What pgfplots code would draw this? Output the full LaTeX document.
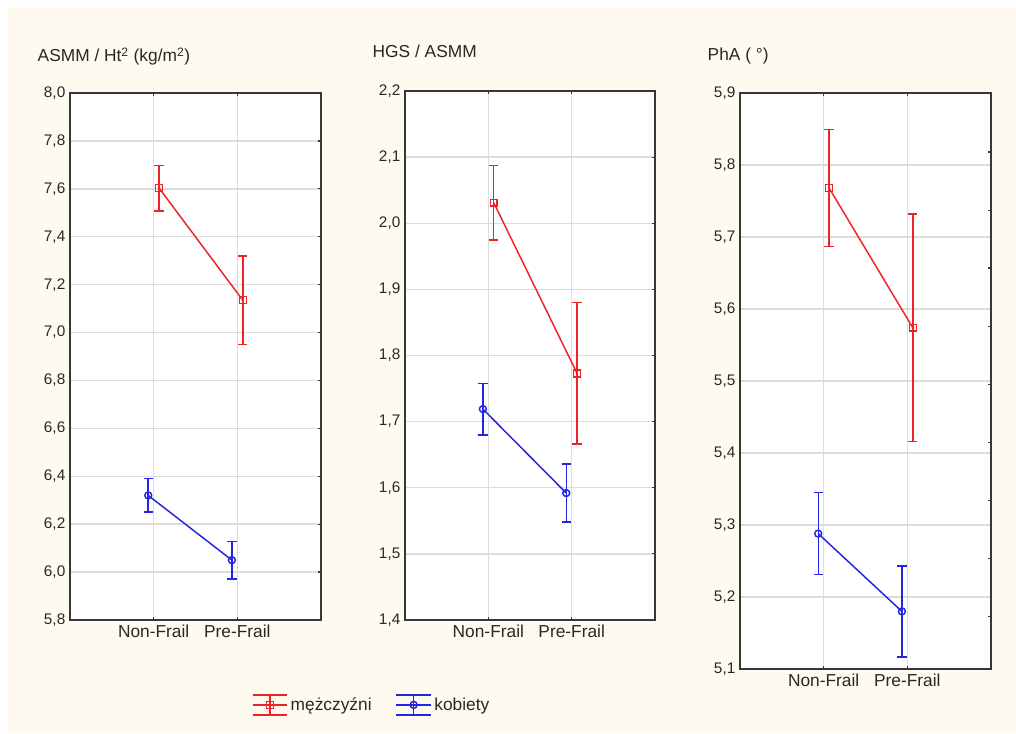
\documentclass[border=0pt]{standalone}
\usepackage{pgfplots}
\usepackage{pgfplotstable}
\pgfplotsset{compat=1.18}
\usepackage{fontspec}
\setmainfont{Liberation Sans}

\definecolor{bgc}{RGB}{254,250,240}
\definecolor{mred}{RGB}{236,36,40}
\definecolor{mblue}{RGB}{36,36,226}
\definecolor{gridc}{RGB}{220,220,220}
\definecolor{axc}{RGB}{55,55,55}
\definecolor{txt}{RGB}{40,40,40}

% x = category (1 Non-Frail, 2 Pre-Frail), shifted a little per series
\pgfplotstableread{
x y e
1.065 7.603 0.095
2.065 7.135 0.185
}\menA
\pgfplotstableread{
x y e
0.935 6.320 0.070
1.935 6.050 0.078
}\womA
\pgfplotstableread{
x y e
1.065 2.031 0.056
2.065 1.773 0.107
}\menB
\pgfplotstableread{
x y e
0.935 1.719 0.039
1.935 1.592 0.044
}\womB
\pgfplotstableread{
x y e
1.065 5.768 0.081
2.065 5.574 0.158
}\menC
\pgfplotstableread{
x y e
0.935 5.288 0.057
1.935 5.180 0.063
}\womC

\pgfplotsset{
  panel/.style={
    scale only axis, width=188.25pt,
    xmin=0, xmax=3, xtick={1,2}, xticklabels={Non-Frail,Pre-Frail},
    xmajorgrids, ymajorgrids,
    grid style={gridc, line width=1.1pt},
    axis line style={axc, line width=1.1pt},
    tick style={axc, line width=0.9pt},
    major tick length=2.5pt, tick align=inside,
    xtick pos=both, xticklabel pos=bottom,
    ytick pos=right, yticklabel pos=left,
    axis background/.style={fill=white},
    /pgf/number format/assume math mode=true,
    yticklabel style={font=\fontsize{11.5}{13}\selectfont, text=txt,
      /pgf/number format/use comma, /pgf/number format/fixed,
      /pgf/number format/fixed zerofill, /pgf/number format/precision=1},
    xticklabel style={font=\fontsize{13}{15}\selectfont, text=txt},
    clip=false,
  },
  men/.style={mred, line width=1.1pt, mark=square, mark size=2.6pt, mark options={solid},
    error bars/.cd, y dir=both, y explicit,
    error bar style={mred, line width=1.1pt},
    error mark options={rotate=90, mred, mark size=3.5pt, line width=1.1pt}},
  wom/.style={mblue, line width=1.1pt, mark=o, mark size=2.6pt, mark options={solid},
    error bars/.cd, y dir=both, y explicit,
    error bar style={mblue, line width=1.1pt},
    error mark options={rotate=90, mblue, mark size=3.5pt, line width=1.1pt}},
}

\begin{document}
\begin{tikzpicture}
\fill[white] (0,0) rectangle (762pt,549.75pt);
\fill[bgc] (6pt,0) rectangle (762pt,544.5pt);
\path[use as bounding box] (0,0) rectangle (762pt,549.75pt);

% panel 1
\begin{axis}[panel, at={(52.5pt,84.75pt)}, anchor=south west, height=395.25pt,
  ymin=5.8, ymax=8.0, ytick={5.8,6.0,6.2,6.4,6.6,6.8,7.0,7.2,7.4,7.6,7.8,8.0},
  legend columns=2,
  legend style={at={(axis description cs:1.203,-0.161)}, anchor=center, draw=none, fill=none,
    font=\fontsize{13}{15}\selectfont, text=txt,
    /tikz/every even column/.append style={column sep=16pt}},
  legend image code/.code={
    \draw[#1, mark=none] (0pt,7.5pt) -- (26pt,7.5pt) (0pt,0pt) -- (26pt,0pt)
      (0pt,-7.5pt) -- (26pt,-7.5pt) (13pt,-7.5pt) -- (13pt,7.5pt);
    \draw[#1] plot coordinates {(13pt,0pt)};
  },
]
\addplot[men] table[x=x, y=y, y error=e] {\menA};
\addlegendentry{mężczyźni}
\addplot[wom] table[x=x, y=y, y error=e] {\womA};
\addlegendentry{kobiety}
\end{axis}

% panel 2
\begin{axis}[panel, at={(303.75pt,84.75pt)}, anchor=south west, width=187.5pt, height=396.75pt,
  ymin=1.4, ymax=2.2, ytick={1.4,1.5,1.6,1.7,1.8,1.9,2.0,2.1,2.2}]
\addplot[men] table[x=x, y=y, y error=e] {\menB};
\addplot[wom] table[x=x, y=y, y error=e] {\womB};
\end{axis}

% panel 3
\begin{axis}[panel, at={(555pt,48pt)}, anchor=south west, height=432pt,
  ymin=5.1, ymax=5.9, ytick={5.1,5.2,5.3,5.4,5.5,5.6,5.7,5.8,5.9},
  ytick pos=left, ytick style={draw=none}]
\addplot[men] table[x=x, y=y, y error=e] {\menC};
\addplot[wom] table[x=x, y=y, y error=e] {\womC};
\end{axis}
% right-hand ticks of panel 3 sit on their own scale
\begin{axis}[at={(555pt,48pt)}, anchor=south west, scale only axis,
  width=188.25pt, height=432pt, xmin=0, xmax=3, ymin=5.1, ymax=5.9,
  axis x line=none, axis y line*=right,
  axis line style={axc, line width=1.1pt}, tick style={axc, line width=0.9pt},
  major tick length=2.5pt, tick align=inside,
  ytick={5.173,5.254,5.334,5.415,5.495,5.576,5.657,5.737,5.818}, yticklabels={}]
\end{axis}

\node[anchor=base west, font=\fontsize{13}{15}\selectfont, text=txt] at (24.75pt,503.25pt)
  {ASMM / Ht\textsuperscript{2} (kg/m\textsuperscript{2})};
\node[anchor=base west, font=\fontsize{13}{15}\selectfont, text=txt] at (276pt,506.25pt)
  {HGS / ASMM};
\node[anchor=base west, font=\fontsize{13}{15}\selectfont, text=txt] at (527.25pt,504pt)
  {PhA ( °)};
\end{tikzpicture}
\end{document}
